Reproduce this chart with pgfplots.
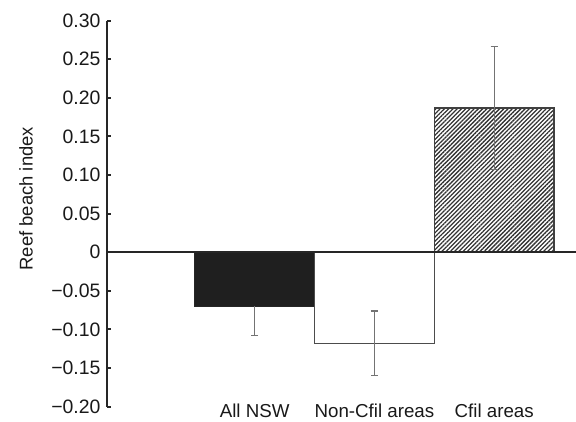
\documentclass[border=0pt]{standalone}
\usepackage{fontspec}
\setmainfont{Liberation Sans}
\usepackage{pgfplots}
\pgfplotsset{compat=1.18}
\usetikzlibrary{patterns.meta}
\begin{document}
\begin{tikzpicture}
\begin{axis}[
  scale only axis,
  width=469bp, height=386bp,
  xmin=-1.233, xmax=2.683,
  ymin=-0.2, ymax=0.3,
  clip=false,
  axis y line*=left,
  axis x line*=bottom,
  x axis line style={draw=none},
  y axis line style={line width=2.5bp, black!85},
  xtick={0,1,2},
  xticklabels={All NSW, Non-Cfil areas, Cfil areas},
  xtick style={draw=none},
  xticklabel style={font=\fontsize{18.8}{22}\selectfont, yshift=6.5bp, text=black!90},
  ytick={-0.2,-0.15,-0.1,-0.05,0,0.05,0.1,0.15,0.2,0.25,0.3},
  yticklabels={−0.20,−0.15,−0.10,−0.05,0,0.05,0.10,0.15,0.20,0.25,0.30},
  yticklabel style={font=\fontsize{19.5}{22}\selectfont, text=black!90, xshift=-3bp},
  ytick style={line width=2bp, black!85},
  tick align=inside,
  major tick length=4bp,
]
\coordinate (O) at (rel axis cs:0,0);
% All NSW
\addplot[ybar, bar width=1, bar shift=0pt, fill=black!88, draw=black!85, line width=1.2bp,
  error bars/.cd, y dir=minus, y explicit,
  error bar style={black!55, line width=1.2bp},
  error mark options={rotate=90, mark size=3.5bp, black!55, line width=1.2bp}]
  coordinates {(0,-0.070) +- (0,0.038)};
% Non-Cfil areas
\addplot[ybar, bar width=1, bar shift=0pt, fill=white, draw=black!70, line width=1.5bp,
  error bars/.cd, y dir=both, y explicit,
  error bar style={black!55, line width=1.2bp},
  error mark options={rotate=90, mark size=3.5bp, black!55, line width=1.2bp}]
  coordinates {(1,-0.118) +- (0,0.042)};
% Cfil areas
\addplot[ybar, bar width=1, bar shift=0pt, pattern={Lines[angle=45,distance=3bp,line width=1.3bp]}, pattern color=black!80, draw=black!75, line width=1.5bp,
  error bars/.cd, y dir=both, y explicit,
  error bar style={black!55, line width=1.2bp},
  error mark options={rotate=90, mark size=3.5bp, black!55, line width=1.2bp}]
  coordinates {(2,0.187) +- (0,0.080)};
\draw[line width=2bp, black!85] (axis cs:-1.233,0) -- (axis cs:2.683,0);
\node[rotate=90, anchor=south, inner sep=0pt, text=black!90, font=\fontsize{18.5}{22}\selectfont]
  at ([xshift=-74bp]rel axis cs:0,0.539) {Reef beach index};
\end{axis}
\pgfresetboundingbox
\path ([shift={(-107bp,-15bp)}]O) rectangle ++(576bp,421.7bp);
\end{tikzpicture}
\end{document}
